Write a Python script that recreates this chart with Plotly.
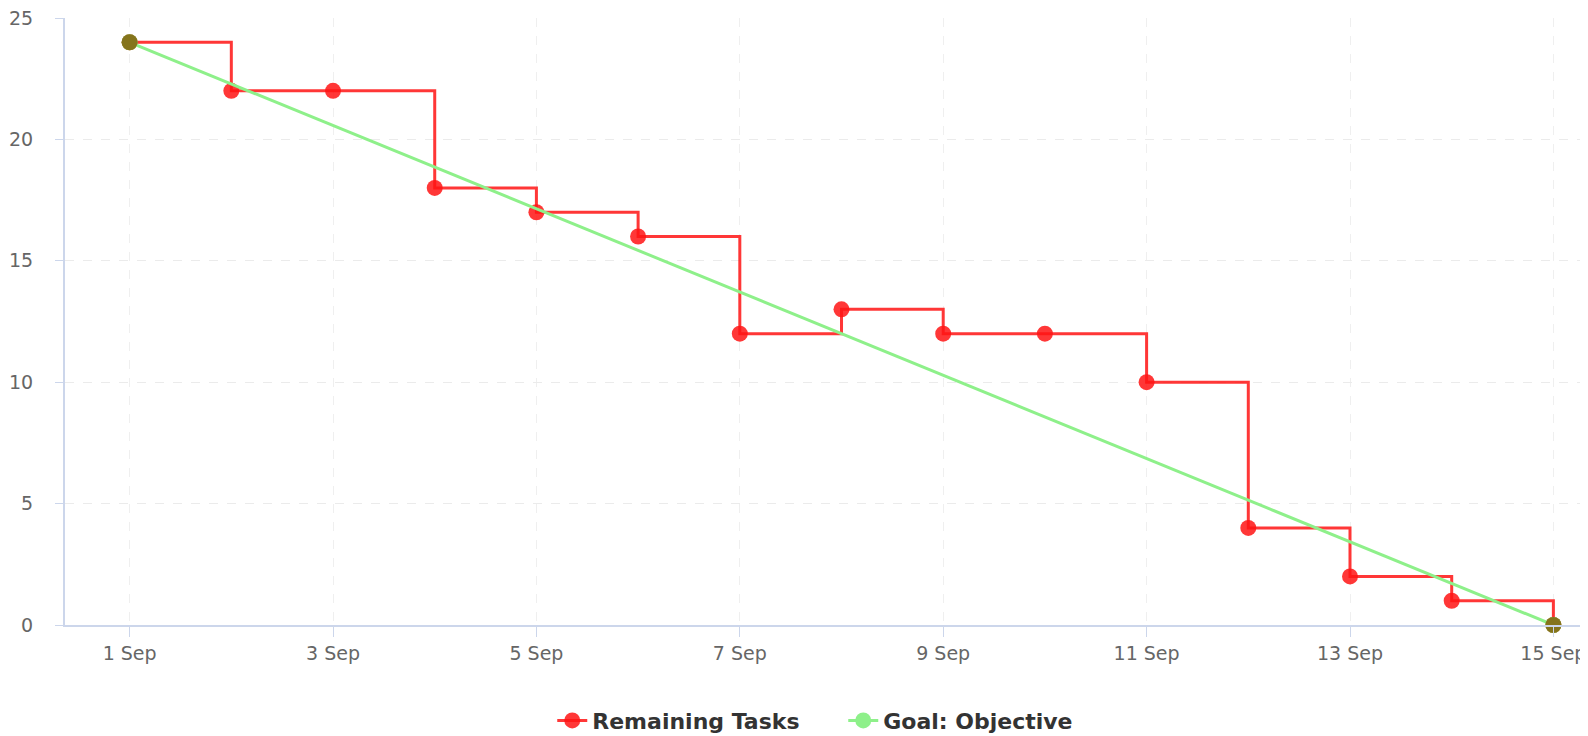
import plotly.graph_objects as go

dates = ["2023-09-%02d" % d for d in range(1, 16)]
remaining = [24, 22, 22, 18, 17, 16, 12, 13, 12, 12, 10, 4, 2, 1, 0]
goal_dates = ["2023-09-01", "2023-09-15"]
goal_values = [24, 0]

RED = "rgba(255,20,20,0.85)"
GREEN = "#8ef08a"
OLIVE = "#85741c"

fig = go.Figure()
fig.add_trace(go.Scatter(
    x=dates, y=remaining, name="Remaining Tasks", mode="lines+markers",
    line=dict(color=RED, width=3, shape="hv"),
    marker=dict(color=RED, size=16), cliponaxis=False,
))
fig.add_trace(go.Scatter(
    x=goal_dates, y=goal_values, name="Goal: Objective", mode="lines+markers",
    line=dict(color=GREEN, width=3),
    marker=dict(color=GREEN, size=16), cliponaxis=False,
))
fig.add_trace(go.Scatter(
    x=goal_dates, y=goal_values, mode="markers", showlegend=False,
    marker=dict(color=OLIVE, size=16), hoverinfo="skip", cliponaxis=False,
))

fig.update_layout(
    width=1580, height=728,
    margin=dict(l=57, r=0, t=10, b=111, autoexpand=False),
    paper_bgcolor="white", plot_bgcolor="white",
    font=dict(family="DejaVu Sans", color="#666666", size=19),
    legend=dict(orientation="h", x=0.511, xanchor="center", y=-0.123, yanchor="top",
                font=dict(family="DejaVu Sans", size=22, color="#333333", weight="bold"),
                itemwidth=30, entrywidth=246),
    showlegend=True,
)
fig.update_xaxes(
    type="date", automargin=False,
    range=["2023-08-31 08:45", "2023-09-15 08:10"],
    tick0="2023-09-01", dtick=2 * 86400000,
    tickformat="%-d %b", ticklabeloverflow="allow",
    showgrid=True, gridcolor="#efefef", griddash="dash", gridwidth=1,
    showline=True, linecolor="#ccd6eb", linewidth=2,
    ticks="outside", ticklen=10, tickcolor="#ccd6eb", tickwidth=1,
    zeroline=False,
)
fig.update_yaxes(
    automargin=False,
    range=[0, 25], tick0=0, dtick=5, ticklabeloverflow="allow",
    showgrid=True, gridcolor="#ebebeb", griddash="dash", gridwidth=1,
    showline=True, linecolor="#ccd6eb", linewidth=2,
    ticks="outside", ticklen=8, tickcolor="#ccd6eb", tickwidth=1,
    ticklabelstandoff=18,
    zeroline=False,
)

fig.write_html("out.html")
